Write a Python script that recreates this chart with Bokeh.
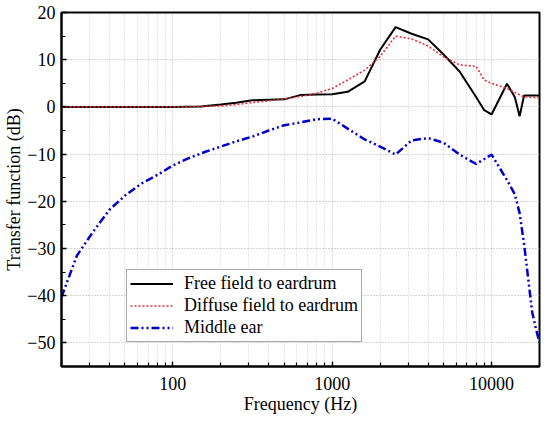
from bokeh.plotting import figure
from bokeh.models import FixedTicker, PrintfTickFormatter, Range1d
from bokeh.embed import file_html
from bokeh.resources import INLINE

# ---- data ----
freq_free = [20, 50, 100, 150, 200, 250, 315, 400, 500, 630, 800, 1000, 1250, 1600,
             2000, 2500, 3150, 4000, 5000, 6300, 8000, 9000, 10000, 12500, 14000,
             15000, 16000, 20000]
free_field = [0, 0, 0, 0.1, 0.5, 0.9, 1.4, 1.5, 1.6, 2.5, 2.65, 2.7, 3.2, 5.4,
              12.1, 16.9, 15.5, 14.3, 11.1, 7.5, 2.1, -0.7, -1.6, 4.9, 2.1,
              -2.0, 2.4, 2.4]

freq_diff = [20, 100, 200, 250, 315, 400, 500, 630, 800, 1000, 1250, 1600, 2000,
             2500, 3150, 4000, 5000, 6300, 8000, 9000, 10000, 12500, 16000, 20000]
diffuse_field = [0, 0, 0.2, 0.5, 0.9, 1.3, 1.7, 2.2, 2.9, 3.9, 5.7, 7.8, 10.7,
                 15.0, 14.4, 12.9, 10.6, 8.9, 8.6, 5.7, 5.0, 3.9, 2.1, 1.9]

freq_mid = [20, 25, 31.5, 40, 50, 63, 80, 100, 125, 160, 200, 250, 315, 400, 500,
            630, 800, 1000, 1250, 1600, 2000, 2500, 3150, 4000, 5000, 6300, 8000,
            10000, 12500, 14000, 15000, 16000, 17000, 18000, 19000, 20000]
middle_ear = [-40.3, -31.5, -26.5, -21.8, -18.8, -16.3, -14.4, -12.4, -10.9, -9.5,
              -8.4, -7.3, -6.3, -5.0, -3.9, -3.3, -2.6, -2.5, -4.6, -6.9, -8.4,
              -10.1, -7.1, -6.6, -7.6, -10.1, -12.1, -10.1, -15.5, -18.5, -22.5,
              -29.0, -36.5, -43.5, -47.0, -50.0]

x_major = [100, 1000, 10000]
x_minor = [m * d for d in (10, 100, 1000, 10000) for m in range(2, 10) if 20 <= m * d <= 20000] + [20000]
y_major = [-50, -40, -30, -20, -10, 0, 10, 20]
y_minor = [-55, -45, -35, -25, -15, -5, 5, 15]

FONT = "Liberation Serif"

p = figure(width=550, height=422, x_axis_type="log",
           x_range=Range1d(20, 20000), y_range=Range1d(-55, 20),
           output_backend="svg", toolbar_location=None,
           min_border_left=61, min_border_right=11, min_border_top=12,
           min_border_bottom=56)

p.line(freq_free, free_field, line_color="black", line_width=2,
       legend_label="Free field to eardrum")
p.line(freq_diff, diffuse_field, line_color="#e8303a", line_width=1.6,
       line_dash="2 2", legend_label="Diffuse field to eardrum")
p.line(freq_mid, middle_ear, line_color="#0000cc", line_width=2.5,
       line_dash="8 3 2 3 2 3", legend_label="Middle ear")

p.xaxis.ticker = FixedTicker(ticks=x_major, minor_ticks=x_minor)
p.xaxis.formatter = PrintfTickFormatter(format="%d")
p.yaxis.ticker = FixedTicker(ticks=y_major, minor_ticks=y_minor)

for ax in (p.xaxis[0], p.yaxis[0]):
    ax.axis_line_width = 2
    ax.axis_line_color = "black"
    ax.major_tick_in = 5
    ax.major_tick_out = 0
    ax.minor_tick_in = 4
    ax.minor_tick_out = 0
    ax.major_tick_line_width = 1.5
    ax.minor_tick_line_width = 1.2
    ax.major_label_text_font = FONT
    ax.major_label_text_font_size = "18px"
    ax.major_label_text_color = "black"
    ax.axis_label_text_font = FONT
    ax.axis_label_text_font_size = "18px"
    ax.axis_label_text_font_style = "normal"
    ax.axis_label_text_color = "black"

p.xaxis.axis_label = "Frequency (Hz)"
p.yaxis.axis_label = "Transfer function (dB)"
p.xaxis.major_label_standoff = 10
p.xaxis.axis_label_standoff = 1
p.yaxis.major_label_standoff = 6
p.yaxis.axis_label_standoff = 0

p.xgrid.ticker = FixedTicker(ticks=x_major, minor_ticks=x_minor)
p.xgrid.grid_line_color = "#bbbbbb"
p.xgrid.grid_line_dash = "1 2"
p.xgrid.minor_grid_line_color = "#cccccc"
p.xgrid.minor_grid_line_dash = "1 2"
p.ygrid.ticker = FixedTicker(ticks=y_major)
p.ygrid.grid_line_color = "#aaaaaa"
p.ygrid.grid_line_dash = "1 2"

p.outline_line_color = "black"
p.outline_line_width = 2

lg = p.legend[0]
lg.location = (65, 24)
lg.label_text_font = FONT
lg.label_text_font_size = "18px"
lg.label_text_color = "black"
lg.glyph_width = 43
lg.glyph_height = 21
lg.label_height = 21
lg.label_standoff = 11
lg.spacing = 1
lg.padding = 3
lg.margin = 0
lg.border_line_color = "#555555"
lg.border_line_width = 1.5
lg.background_fill_alpha = 1.0

open("out.html", "w").write(file_html(p, INLINE))
